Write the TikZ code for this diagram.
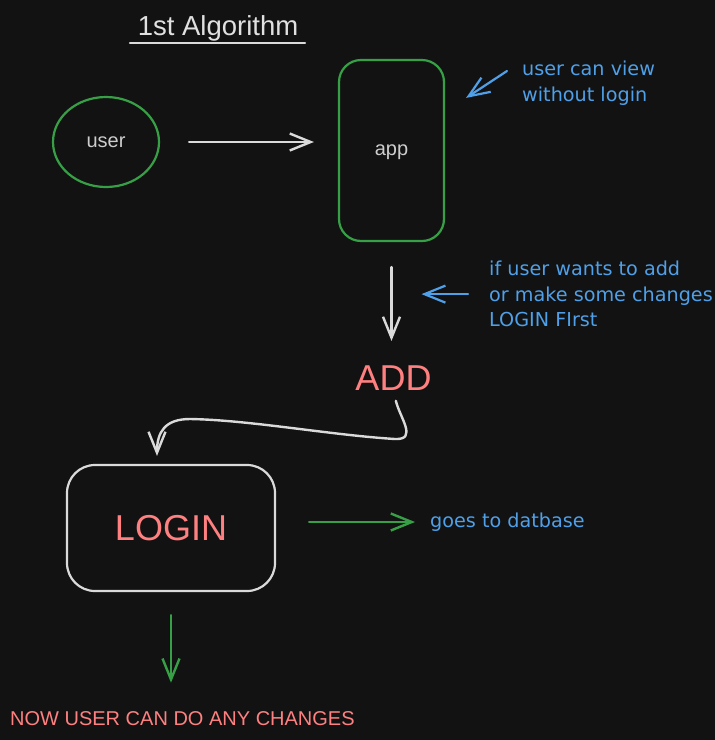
\documentclass[tikz,border=0pt]{standalone}
\usepackage{fontspec}
\setmainfont{Liberation Sans}
\newfontfamily\handfont{DejaVu Sans}
\usetikzlibrary{arrows.meta,shapes.geometric}
\definecolor{bgc}{HTML}{121212}
\definecolor{grn}{HTML}{37A046}
\definecolor{blu}{HTML}{4FA0E8}
\definecolor{redt}{HTML}{FF8080}
\definecolor{strokegray}{HTML}{DADADA}
\definecolor{txtgray}{HTML}{CDCDCD}
\definecolor{titlegray}{HTML}{E0E0E0}
\begin{document}
\begin{tikzpicture}[x=1pt,y=-1pt,
  tipstyle/.style={-{Straight Barb[length=21pt,width=17pt]}},
  conn/.style={line width=2.4pt, line cap=round, line join=round, tipstyle},
  wconn/.style={conn, draw=strokegray},
  gconn/.style={conn, draw=grn},
  bconn/.style={conn, draw=blu, line width=2.2pt},
  note/.style={font=\handfont\fontsize{19.2pt}{25.5pt}\selectfont, text=blu, align=left, inner sep=0pt},
  plain/.style={font=\fontsize{20pt}{24pt}\selectfont, text=txtgray},
  bigred/.style={font=\fontsize{36pt}{40pt}\selectfont, text=redt, inner sep=0pt},
]
\fill[bgc] (0,0) rectangle (715,740);
\useasboundingbox (0,0) rectangle (715,740);

% title
\node[font=\fontsize{27.5pt}{30pt}\selectfont, text=titlegray, anchor=base, inner sep=0pt] (title) at (218,35) {1st Algorithm};
\draw[strokegray, line width=2.4pt, line cap=round] (130,43) -- (305,43);

% shapes
\node[plain, ellipse, draw=grn, line width=2.2pt, minimum width=106pt, minimum height=90pt, inner sep=0pt] (user) at (106,142) {user};
\node[plain, rectangle, rounded corners=22pt, draw=grn, line width=2.2pt, minimum width=105pt, minimum height=181pt, text depth=0pt] (app) at (391.5,150.5) {app};
\node[bigred] (ADD) at (393.5,378.5) {ADD};
\node[rectangle, rounded corners=28pt, draw=strokegray, line width=2.2pt, minimum width=208pt, minimum height=126pt, font=\fontsize{36pt}{40pt}\selectfont, text=redt] (LOGIN) at (171,528) {LOGIN};
\node[font=\fontsize{20pt}{24pt}\selectfont, text=redt, inner sep=0pt, anchor=west] (bottom) at (10,719) {NOW USER CAN DO ANY CHANGES};

% notes
\node[note, anchor=north west] (note1) at (522,61) {user can view\\without login};
\node[note, anchor=north west] (note2) at (489,261) {if user wants to add\\or make some changes\\LOGIN FIrst};
\node[note, anchor=base west] (note3) at (430,527) {goes to datbase};

% connectors
\draw[wconn, shorten <=29pt, shorten >=24pt] (user.east) -- (user.east -| app.west);
\draw[wconn, shorten <=25pt, shorten >=25pt] (app.south) -- (app.south |- ADD.north);
\draw[wconn, shorten <=10pt, shorten >=8pt] (ADD.south) .. controls (400,418) and (418,440) .. (395,439)
   .. controls (330,435) and (250,420) .. (190,419)
   .. controls (165,419) and (157,432) .. ([xshift=-14pt]LOGIN.north);
\draw[gconn, shorten <=33pt, shorten >=15pt] ([yshift=6pt]LOGIN.east) -- ([yshift=6pt]LOGIN.east -| note3.west);
\draw[gconn, shorten <=23pt, shorten >=29pt] (LOGIN.south) -- (LOGIN.south |- bottom.north);
\draw[bconn] ([xshift=-15pt,yshift=-10pt]note1.north west) -- ([xshift=21pt,yshift=-39pt]app.north east);
\draw[bconn, shorten <=21pt, shorten >=30pt] (note2.west) -- (note2.west -| app.south);
\end{tikzpicture}
\end{document}
